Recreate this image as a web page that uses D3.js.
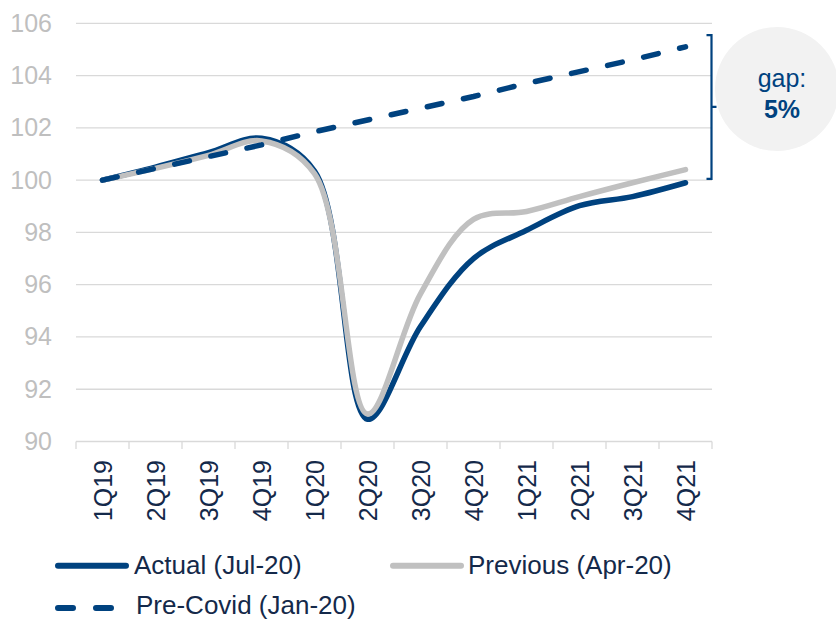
<!DOCTYPE html>
<html>
<head>
<meta charset="utf-8">
<script src="https://cdn.jsdelivr.net/npm/d3@7/dist/d3.min.js"></script>
<style>
  html, body { margin: 0; padding: 0; background: #fff; }
  svg { display: block; font-family: "Liberation Sans", Arial, sans-serif; }
</style>
</head>
<body>
<svg id="chart" width="836" height="620"></svg>
<script>
// Quarterly GDP index (1Q19 = 100)
const quarters = ["1Q19", "2Q19", "3Q19", "4Q19", "1Q20", "2Q20", "3Q20", "4Q20", "1Q21", "2Q21", "3Q21", "4Q21"];
const actual   = [100, 100.5, 101.05, 101.6, 100.35, 90.85, 94.4, 97.0, 98.08, 99.02, 99.37, 99.9];
const previous = [100, 100.45, 100.95, 101.5, 100.25, 91.05, 95.65, 98.5, 98.8, 99.37, 99.9, 100.4];
const preCovid = [100, 100.45, 100.9, 101.35, 101.85, 102.3, 102.75, 103.2, 103.7, 104.15, 104.6, 105.1];
const yTicks   = [90, 92, 94, 96, 98, 100, 102, 104, 106];
const gapLabel = ["gap:", "5%"];
const gapRange = [100.05, 105.55];

const BLUE = "#00427F";
const GREY = "#C0C0C0";
const NAVY = "#14294A";

const svg = d3.select("#chart");
const plotLeft = 76, plotRight = 712, plotTop = 23.3, plotBottom = 441.5;

const x = d3.scaleBand().domain(quarters).range([plotLeft, plotRight]).paddingInner(0).paddingOuter(0);
const y = d3.scaleLinear().domain([90, 106]).range([plotBottom, plotTop]);
const cx = q => x(q) + x.bandwidth() / 2;

// horizontal gridlines
svg.append("g").selectAll("line")
  .data(yTicks.filter(v => v !== 90))
  .join("line")
  .attr("x1", plotLeft).attr("x2", plotRight)
  .attr("y1", d => y(d)).attr("y2", d => y(d))
  .attr("stroke", "#D9D9D9").attr("stroke-width", 1.3);

// y axis labels
const yAxis = svg.append("g")
  .attr("transform", `translate(${plotLeft},0)`)
  .call(d3.axisLeft(y).tickValues(yTicks).tickSize(0).tickPadding(24));
yAxis.select(".domain").remove();
yAxis.selectAll("text")
  .attr("fill", "#BFBFBF").attr("font-size", 25)
  .attr("font-family", "'Liberation Sans', Arial, sans-serif");

// x axis with category boundaries as ticks
const xAxis = svg.append("g").attr("transform", `translate(0,${plotBottom})`);
xAxis.append("line")
  .attr("x1", plotLeft).attr("x2", plotRight)
  .attr("stroke", "#D9D9D9").attr("stroke-width", 1.3);
const bounds = quarters.map(q => x(q)).concat([plotRight]);
xAxis.selectAll("line.tick").data(bounds).join("line")
  .attr("class", "tick")
  .attr("x1", d => d).attr("x2", d => d)
  .attr("y1", 0).attr("y2", 7.5)
  .attr("stroke", "#D9D9D9").attr("stroke-width", 1.3);
xAxis.selectAll("text").data(quarters).join("text")
  .attr("transform", d => `translate(${cx(d) + 9},18.5) rotate(-90)`)
  .attr("text-anchor", "end")
  .attr("fill", NAVY).attr("font-size", 25)
  .text(d => d);

// series lines
const line = d3.line()
  .x((d, i) => cx(quarters[i]))
  .y(d => y(d))
  .curve(d3.curveCatmullRom);

svg.append("path").datum(actual)
  .attr("d", line).attr("fill", "none")
  .attr("stroke", BLUE).attr("stroke-width", 5.5).attr("stroke-linecap", "round");
svg.append("path").datum(previous)
  .attr("d", line).attr("fill", "none")
  .attr("stroke", GREY).attr("stroke-width", 5.5).attr("stroke-linecap", "round");
svg.append("path").datum(preCovid)
  .attr("d", d3.line().x((d, i) => cx(quarters[i])).y(d => y(d)))
  .attr("fill", "none")
  .attr("stroke", BLUE).attr("stroke-width", 5.5)
  .attr("stroke-linecap", "round").attr("stroke-dasharray", "15,22");

// gap bracket
const bTop = y(gapRange[1]), bBot = y(gapRange[0]), bx = 711.5;
svg.append("path")
  .attr("d", `M${bx - 5},${bTop} H${bx} V${bBot} H${bx - 5} M${bx},${(bTop + bBot) / 2} H${bx + 5}`)
  .attr("fill", "none").attr("stroke", BLUE).attr("stroke-width", 2.2);

// gap bubble
svg.append("circle").attr("cx", 777).attr("cy", 89).attr("r", 62).attr("fill", "#F2F2F2");
svg.append("text").attr("x", 782).attr("y", 87).attr("text-anchor", "middle")
  .attr("fill", BLUE).attr("font-size", 25).text(gapLabel[0]);
svg.append("text").attr("x", 782).attr("y", 118).attr("text-anchor", "middle")
  .attr("fill", BLUE).attr("font-size", 25).attr("font-weight", "bold").text(gapLabel[1]);

// legend
const legend = [
  { name: "Actual (Jul-20)",   color: BLUE, dash: null,    lx: 58,  ly: 565.7, tx: 134, ty: 574 },
  { name: "Previous (Apr-20)", color: GREY, dash: null,    lx: 393, ly: 565.7, tx: 468, ty: 574 },
  { name: "Pre-Covid (Jan-20)", color: BLUE, dash: "15,23", lx: 58,  ly: 608,   tx: 136, ty: 614 }
];
const lg = svg.append("g").selectAll("g").data(legend).join("g");
lg.append("line")
  .attr("x1", d => d.lx).attr("x2", d => d.lx + 68)
  .attr("y1", d => d.ly).attr("y2", d => d.ly)
  .attr("stroke", d => d.color).attr("stroke-width", 6)
  .attr("stroke-linecap", "round")
  .attr("stroke-dasharray", d => d.dash);
lg.append("text")
  .attr("x", d => d.tx).attr("y", d => d.ty)
  .attr("fill", NAVY).attr("font-size", 26)
  .text(d => d.name);
</script>
</body>
</html>
